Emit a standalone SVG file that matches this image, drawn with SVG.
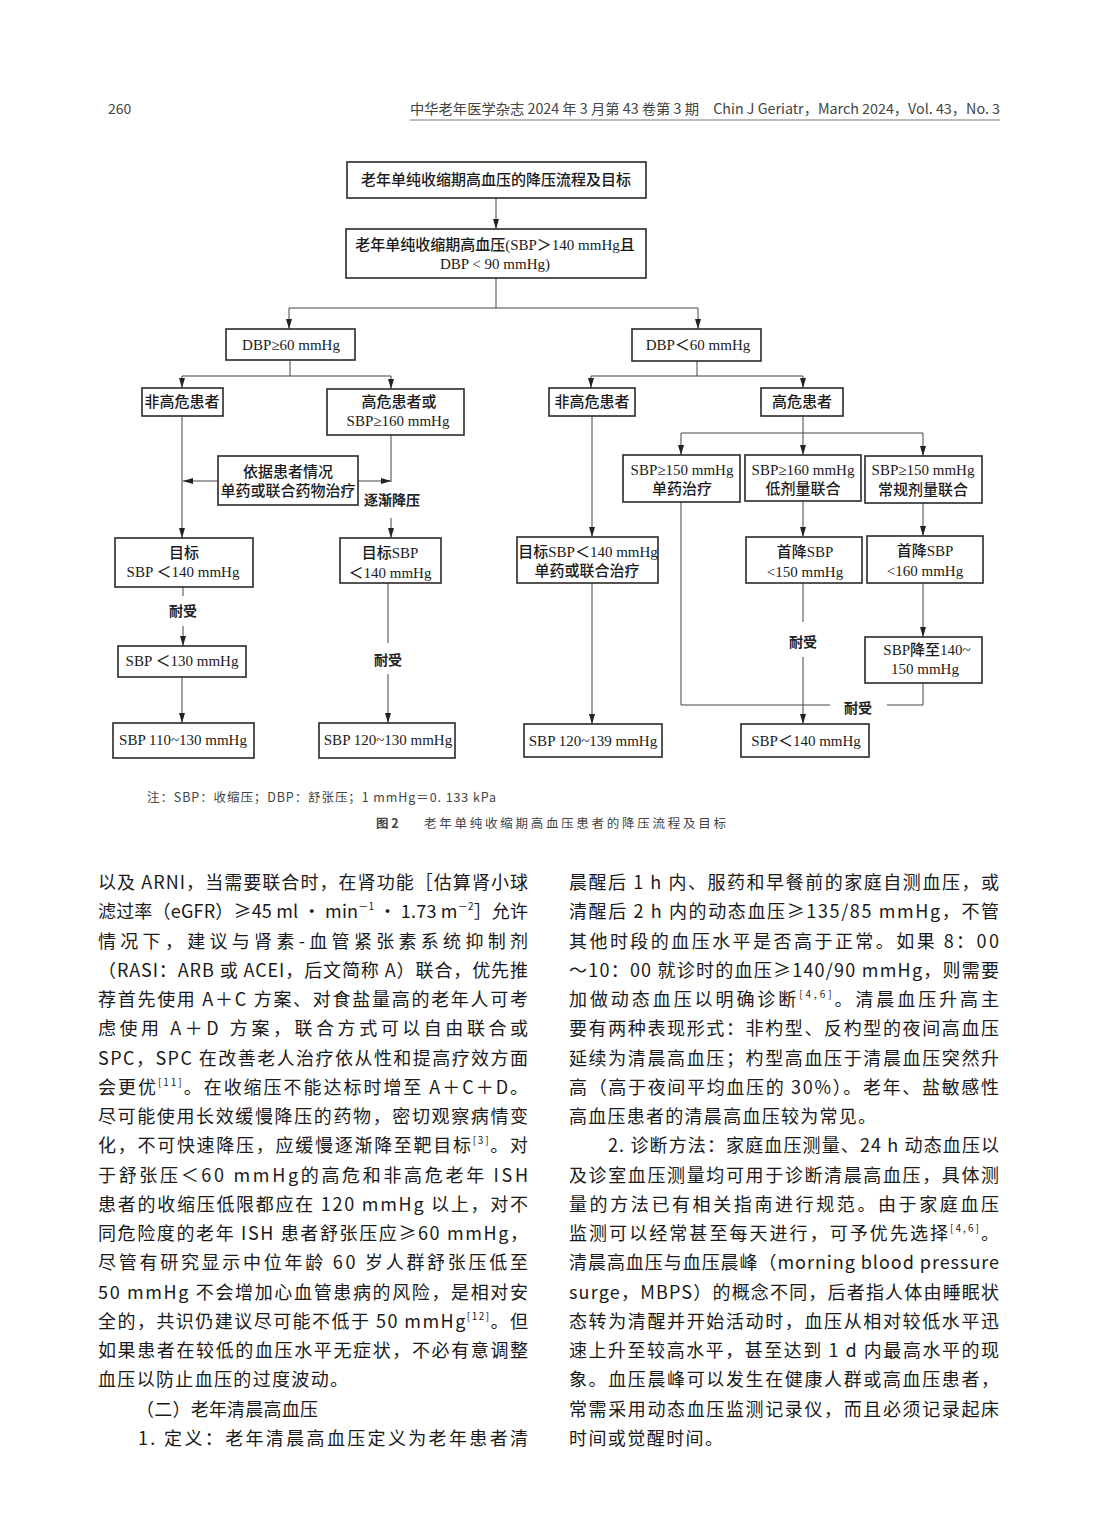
<svg xmlns="http://www.w3.org/2000/svg" width="1100" height="1538" viewBox="0 0 1100 1538">
<defs>
<marker id="ar" viewBox="0 0 10 6" refX="10" refY="3" markerWidth="10" markerHeight="6" markerUnits="userSpaceOnUse" orient="auto">
<path d="M0,0 L10,3 L0,6 z" fill="#222"/>
</marker>
<style>
.bx{fill:#fff;stroke:#2a2a2a;stroke-width:1.6}
.ft{font-family:"Liberation Serif","Noto Sans CJK SC",serif;font-size:15px;font-weight:500;fill:#1a1a1a;text-anchor:middle}
.lb{font-family:"Noto Sans CJK SC",sans-serif;font-size:14px;font-weight:bold;fill:#222;text-anchor:middle}
.cn path{fill:none;stroke:#444;stroke-width:1}
.cn .a{marker-end:url(#ar)}
.bd{font-family:"Noto Sans CJK SC",sans-serif;font-size:18px;fill:#1a1a1a}
.hd{font-family:"Noto Sans CJK SC",sans-serif;font-size:14px;fill:#444}
.cp{font-family:"Noto Sans CJK SC",sans-serif;font-size:12.5px;fill:#444}
.sp{font-size:10px}
</style>
</defs>
<rect width="1100" height="1538" fill="#fff"/>

<!-- header -->
<g id="header">
<text class="hd" x="108" y="114" font-size="13">260</text>
<text class="hd" x="410" y="114" textLength="590" lengthAdjust="spacingAndGlyphs">中华老年医学杂志 2024 年 3 月第 43 卷第 3 期　Chin J Geriatr，March 2024，Vol. 43，No. 3</text>
<line x1="410" y1="120" x2="1000" y2="120" stroke="#777" stroke-width="1"/>
</g>

<!-- connectors -->
<g id="connectors" class="cn">
<path class="a" d="M496,198 V229"/>
<path d="M496,278 V308"/>
<path d="M289,308 H698"/>
<path class="a" d="M289,308 V329"/>
<path class="a" d="M698,308 V329"/>
<path d="M290,360 V376"/>
<path d="M182,376 H391"/>
<path class="a" d="M182,376 V388"/>
<path class="a" d="M391,376 V389"/>
<path class="a" d="M182,416 V538"/>
<path class="a" d="M218,481 H183"/>
<path class="a" d="M358,481 H391"/>
<path d="M391,435 V482"/>
<path class="a" d="M391,518 V538"/>
<path d="M183,587 V596"/>
<path class="a" d="M183,626 V646"/>
<path class="a" d="M182,677 V723"/>
<path d="M388,583 V643"/>
<path class="a" d="M388,674 V723"/>
<path d="M697,361 V376"/>
<path d="M591,376 H803"/>
<path class="a" d="M591,376 V388"/>
<path class="a" d="M803,376 V388"/>
<path class="a" d="M592,416 V537"/>
<path class="a" d="M592,583 V724"/>
<path class="a" d="M803,416 V455"/>
<path d="M681,433 H923"/>
<path class="a" d="M681,433 V455"/>
<path class="a" d="M923,433 V456"/>
<path class="a" d="M803,501 V537"/>
<path class="a" d="M923,503 V536"/>
<path d="M803,583 V622"/>
<path class="a" d="M803,657 V724"/>
<path class="a" d="M923,583 V637"/>
<path d="M681,502 V705 H830"/>
<path d="M887,705 H923 V683"/>
<text class="lb" x="392" y="505">逐渐降压</text>
<text class="lb" x="183" y="616">耐受</text>
<text class="lb" x="388" y="665">耐受</text>
<text class="lb" x="803" y="647">耐受</text>
<text class="lb" x="858" y="713">耐受</text>
</g>

<!-- nodes -->
<g id="n1"><rect class="bx" x="347" y="162" width="299" height="36"/><text class="ft" x="496" y="185">老年单纯收缩期高血压的降压流程及目标</text></g>
<g id="n2"><rect class="bx" x="346" y="229" width="300" height="49"/><text class="ft" x="495" y="250">老年单纯收缩期高血压(SBP＞140 mmHg且</text><text class="ft" x="495" y="269">DBP &lt; 90 mmHg)</text></g>
<g id="n3"><rect class="bx" x="226" y="329" width="129" height="31"/><text class="ft" x="291" y="350">DBP≥60 mmHg</text></g>
<g id="n4"><rect class="bx" x="632" y="329" width="129" height="32"/><text class="ft" x="698" y="350">DBP＜60 mmHg</text></g>
<g id="n5"><rect class="bx" x="142" y="388" width="81" height="28"/><text class="ft" x="182" y="407">非高危患者</text></g>
<g id="n6"><rect class="bx" x="327" y="389" width="137" height="46"/><text class="ft" x="399" y="407">高危患者或</text><text class="ft" x="398" y="426">SBP≥160 mmHg</text></g>
<g id="n7"><rect class="bx" x="218" y="456" width="140" height="49"/><text class="ft" x="288" y="477">依据患者情况</text><text class="ft" x="288" y="496">单药或联合药物治疗</text></g>
<g id="n8"><rect class="bx" x="115" y="538" width="138" height="49"/><text class="ft" x="184" y="558">目标</text><text class="ft" x="183" y="577">SBP ＜140 mmHg</text></g>
<g id="n9"><rect class="bx" x="118" y="646" width="128" height="31"/><text class="ft" x="182" y="666">SBP ＜130 mmHg</text></g>
<g id="n10"><rect class="bx" x="113" y="723" width="141" height="35"/><text class="ft" x="183" y="745">SBP 110~130 mmHg</text></g>
<g id="n11"><rect class="bx" x="340" y="538" width="101" height="45"/><text class="ft" x="390" y="558">目标SBP</text><text class="ft" x="390" y="578">＜140 mmHg</text></g>
<g id="n12"><rect class="bx" x="319" y="723" width="136" height="35"/><text class="ft" x="388" y="745">SBP 120~130 mmHg</text></g>
<g id="n13"><rect class="bx" x="549" y="388" width="86" height="28"/><text class="ft" x="592" y="407">非高危患者</text></g>
<g id="n14"><rect class="bx" x="761" y="388" width="82" height="28"/><text class="ft" x="802" y="407">高危患者</text></g>
<g id="n15"><rect class="bx" x="623" y="455" width="117" height="47"/><text class="ft" x="682" y="475">SBP≥150 mmHg</text><text class="ft" x="682" y="494">单药治疗</text></g>
<g id="n16"><rect class="bx" x="745" y="455" width="116" height="46"/><text class="ft" x="803" y="475">SBP≥160 mmHg</text><text class="ft" x="803" y="494">低剂量联合</text></g>
<g id="n17"><rect class="bx" x="865" y="456" width="117" height="47"/><text class="ft" x="923" y="475">SBP≥150 mmHg</text><text class="ft" x="923" y="495">常规剂量联合</text></g>
<g id="n18"><rect class="bx" x="517" y="537" width="141" height="46"/><text class="ft" x="588" y="557">目标SBP＜140 mmHg</text><text class="ft" x="587" y="576">单药或联合治疗</text></g>
<g id="n19"><rect class="bx" x="746" y="537" width="116" height="46"/><text class="ft" x="805" y="557">首降SBP</text><text class="ft" x="805" y="577">&lt;150 mmHg</text></g>
<g id="n20"><rect class="bx" x="867" y="536" width="116" height="47"/><text class="ft" x="925" y="556">首降SBP</text><text class="ft" x="925" y="576">&lt;160 mmHg</text></g>
<g id="n21"><rect class="bx" x="865" y="637" width="117" height="46"/><text class="ft" x="927" y="655">SBP降至140~</text><text class="ft" x="925" y="674">150 mmHg</text></g>
<g id="n22"><rect class="bx" x="524" y="724" width="138" height="33"/><text class="ft" x="593" y="746">SBP 120~139 mmHg</text></g>
<g id="n23"><rect class="bx" x="741" y="724" width="128" height="33"/><text class="ft" x="806" y="746">SBP＜140 mmHg</text></g>

<!-- caption -->
<g id="caption">
<text class="cp" x="147" y="802" textLength="349" lengthAdjust="spacing">注：SBP：收缩压；DBP：舒张压；1 mmHg＝0. 133 kPa</text>
<text class="cp" x="376" y="828" font-size="13" font-weight="bold" fill="#222">图 2</text>
<text class="cp" x="424" y="828" font-size="13" textLength="302" lengthAdjust="spacing">老年单纯收缩期高血压患者的降压流程及目标</text>
</g>

<!-- body left column -->
<g id="body-left" class="bd">
<text class="bd" x="98" y="889" textLength="430" lengthAdjust="spacing">以及 ARNI，当需要联合时，在肾功能［估算肾小球</text>
<text class="bd" x="98" y="918.25" textLength="430" lengthAdjust="spacing">滤过率（eGFR）≥45 ml · min<tspan class="sp" dy="-8">－1</tspan><tspan dy="8"> · 1.73 m</tspan><tspan class="sp" dy="-8">－2</tspan><tspan dy="8">］允许</tspan></text>
<text class="bd" x="98" y="947.5" textLength="430" lengthAdjust="spacing">情况下，建议与肾素-血管紧张素系统抑制剂</text>
<text class="bd" x="98" y="976.75" textLength="430" lengthAdjust="spacing">（RASI：ARB 或 ACEI，后文简称 A）联合，优先推</text>
<text class="bd" x="98" y="1006" textLength="430" lengthAdjust="spacing">荐首先使用 A＋C 方案、对食盐量高的老年人可考</text>
<text class="bd" x="98" y="1035.25" textLength="430" lengthAdjust="spacing">虑使用 A＋D 方案，联合方式可以自由联合或</text>
<text class="bd" x="98" y="1064.5" textLength="430" lengthAdjust="spacing">SPC，SPC 在改善老人治疗依从性和提高疗效方面</text>
<text class="bd" x="98" y="1093.75" textLength="430" lengthAdjust="spacing">会更优<tspan class="sp" dy="-8">[11]</tspan><tspan dy="8">。在收缩压不能达标时增至 A＋C＋D。</tspan></text>
<text class="bd" x="98" y="1123" textLength="430" lengthAdjust="spacing">尽可能使用长效缓慢降压的药物，密切观察病情变</text>
<text class="bd" x="98" y="1152.25" textLength="430" lengthAdjust="spacing">化，不可快速降压，应缓慢逐渐降至靶目标<tspan class="sp" dy="-8">[3]</tspan><tspan dy="8">。对</tspan></text>
<text class="bd" x="98" y="1181.5" textLength="430" lengthAdjust="spacing">于舒张压＜60 mmHg的高危和非高危老年 ISH</text>
<text class="bd" x="98" y="1210.75" textLength="430" lengthAdjust="spacing">患者的收缩压低限都应在 120 mmHg 以上，对不</text>
<text class="bd" x="98" y="1240" textLength="430" lengthAdjust="spacing">同危险度的老年 ISH 患者舒张压应≥60 mmHg，</text>
<text class="bd" x="98" y="1269.25" textLength="430" lengthAdjust="spacing">尽管有研究显示中位年龄 60 岁人群舒张压低至</text>
<text class="bd" x="98" y="1298.5" textLength="430" lengthAdjust="spacing">50 mmHg 不会增加心血管患病的风险，是相对安</text>
<text class="bd" x="98" y="1327.75" textLength="430" lengthAdjust="spacing">全的，共识仍建议尽可能不低于 50 mmHg<tspan class="sp" dy="-8">[12]</tspan><tspan dy="8">。但</tspan></text>
<text class="bd" x="98" y="1357" textLength="430" lengthAdjust="spacing">如果患者在较低的血压水平无症状，不必有意调整</text>
<text class="bd" x="98" y="1386.25" textLength="250" lengthAdjust="spacing">血压以防止血压的过度波动。</text>
<text class="bd" x="136" y="1415.5" textLength="182" lengthAdjust="spacing">（二）老年清晨高血压</text>
<text class="bd" x="138" y="1444.75" textLength="390" lengthAdjust="spacing">1. 定义：老年清晨高血压定义为老年患者清</text>
</g>

<!-- body right column -->
<g id="body-right" class="bd">
<text class="bd" x="569" y="889" textLength="430" lengthAdjust="spacing">晨醒后 1 h 内、服药和早餐前的家庭自测血压，或</text>
<text class="bd" x="569" y="918.25" textLength="430" lengthAdjust="spacing">清醒后 2 h 内的动态血压≥135/85 mmHg，不管</text>
<text class="bd" x="569" y="947.5" textLength="430" lengthAdjust="spacing">其他时段的血压水平是否高于正常。如果 8：00</text>
<text class="bd" x="569" y="976.75" textLength="430" lengthAdjust="spacing">～10：00 就诊时的血压≥140/90 mmHg，则需要</text>
<text class="bd" x="569" y="1006" textLength="430" lengthAdjust="spacing">加做动态血压以明确诊断<tspan class="sp" dy="-8">[4,6]</tspan><tspan dy="8">。清晨血压升高主</tspan></text>
<text class="bd" x="569" y="1035.25" textLength="430" lengthAdjust="spacing">要有两种表现形式：非杓型、反杓型的夜间高血压</text>
<text class="bd" x="569" y="1064.5" textLength="430" lengthAdjust="spacing">延续为清晨高血压；杓型高血压于清晨血压突然升</text>
<text class="bd" x="569" y="1093.75" textLength="430" lengthAdjust="spacing">高（高于夜间平均血压的 30%）。老年、盐敏感性</text>
<text class="bd" x="569" y="1123" textLength="307" lengthAdjust="spacing">高血压患者的清晨高血压较为常见。</text>
<text class="bd" x="608" y="1152.25" textLength="391" lengthAdjust="spacing">2. 诊断方法：家庭血压测量、24 h 动态血压以</text>
<text class="bd" x="569" y="1181.5" textLength="430" lengthAdjust="spacing">及诊室血压测量均可用于诊断清晨高血压，具体测</text>
<text class="bd" x="569" y="1210.75" textLength="430" lengthAdjust="spacing">量的方法已有相关指南进行规范。由于家庭血压</text>
<text class="bd" x="569" y="1240" textLength="430" lengthAdjust="spacing">监测可以经常甚至每天进行，可予优先选择<tspan class="sp" dy="-8">[4,6]</tspan><tspan dy="8">。</tspan></text>
<text class="bd" x="569" y="1269.25" textLength="430" lengthAdjust="spacing">清晨高血压与血压晨峰（morning blood pressure</text>
<text class="bd" x="569" y="1298.5" textLength="430" lengthAdjust="spacing">surge，MBPS）的概念不同，后者指人体由睡眠状</text>
<text class="bd" x="569" y="1327.75" textLength="430" lengthAdjust="spacing">态转为清醒并开始活动时，血压从相对较低水平迅</text>
<text class="bd" x="569" y="1357" textLength="430" lengthAdjust="spacing">速上升至较高水平，甚至达到 1 d 内最高水平的现</text>
<text class="bd" x="569" y="1386.25" textLength="430" lengthAdjust="spacing">象。血压晨峰可以发生在健康人群或高血压患者，</text>
<text class="bd" x="569" y="1415.5" textLength="430" lengthAdjust="spacing">常需采用动态血压监测记录仪，而且必须记录起床</text>
<text class="bd" x="569" y="1444.75" textLength="154" lengthAdjust="spacing">时间或觉醒时间。</text>
</g>
</svg>
